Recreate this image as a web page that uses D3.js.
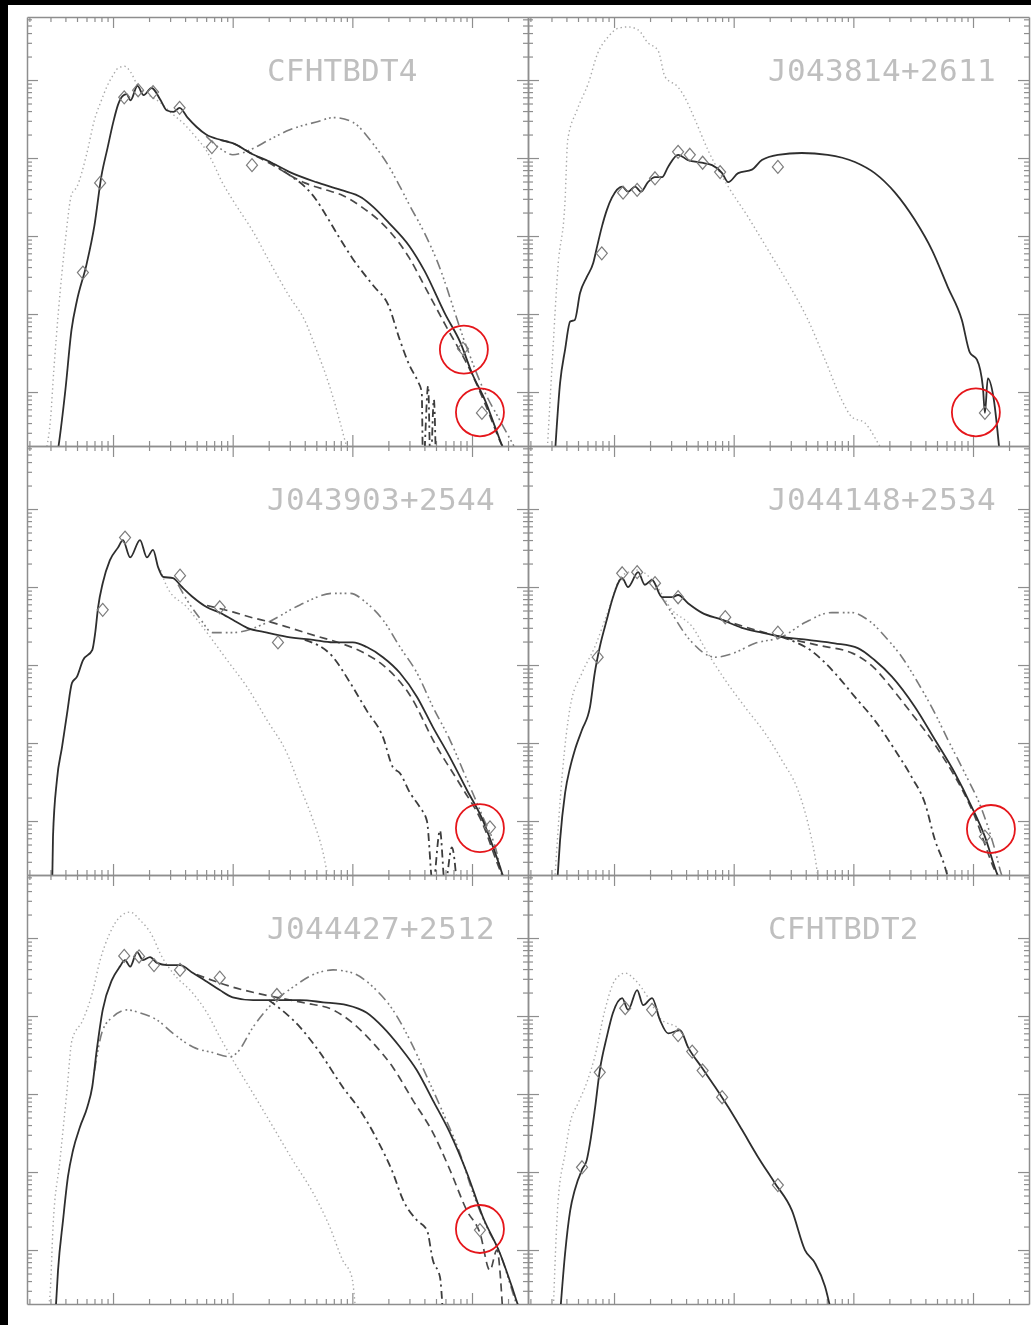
<!DOCTYPE html>
<html>
<head>
<meta charset="utf-8">
<script src="https://cdn.jsdelivr.net/npm/d3@7"></script>
<style>
  html, body { margin: 0; padding: 0; background: #fff; }
  svg { display: block; }
</style>
</head>
<body>
<svg id="chart" width="1031" height="1325"></svg>
<script>
// Spectral energy distributions: wavelength (micron) vs lambda*F_lambda (erg s^-1 cm^-2)

// ---- CFHTBDT4 ----
const t4Phot = [[0.28,2e-16],[0.3,4.4e-16],[0.32,1.9e-15],[0.35,1.1e-14],[0.4,8.9e-14],[0.45,3.4e-13],[0.5,4.3e-13],[0.6,1.1e-12],[0.7,3.1e-12],[0.8,5.5e-12],[0.9,8.6e-12],[1.0,1.15e-11],[1.1,1.42e-11],[1.25,1.5e-11],[1.4,1.27e-11],[1.6,8.6e-12],[2.0,6.4e-12],[2.5,5.1e-12],[3,3.9e-12],[4,2.65e-12],[5,1.8e-12],[6,1.26e-12],[7,8.1e-13],[8,5.2e-13],[10,2.9e-13],[15,1.1e-13],[20,4.9e-14],[30,1.65e-14],[40,8.3e-15],[50,3.5e-15],[60,1.66e-15],[70,7.9e-16],[80,3.8e-16],[90,2e-16],[100,1.5e-16]];
const t4Model = [[0.34,1.5e-16],[0.35,2.0e-16],[0.4,1.07e-15],[0.45,6.3e-15],[0.5,1.5e-14],[0.6,4.3e-14],[0.7,1.38e-13],[0.8,5.9e-13],[0.9,1.35e-12],[1.0,2.8e-12],[1.1,4.8e-12],[1.2,6.2e-12],[1.3,6.6e-12],[1.4,5.5e-12],[1.6,8.4e-12],[1.8,6.4e-12],[2.1,7.9e-12],[2.5,5.5e-12],[2.8,4.1e-12],[3.2,3.9e-12],[3.6,4.4e-12],[4.2,3.3e-12],[5,2.5e-12],[6,2.0e-12],[8,1.7e-12],[10,1.55e-12],[15,1.1e-12],[20,9.1e-13],[30,6.6e-13],[50,4.9e-13],[80,3.9e-13],[120,3.1e-13],[150,2.35e-13],[200,1.5e-13],[300,7.4e-14],[400,3.6e-14],[600,9.8e-15],[800,4.3e-15],[1000,1.74e-15],[1300,7.5e-16],[1600,3.2e-16],[1800,2.0e-16],[2000,1.5e-16]];
const t4Dashed = [[8,1.7e-12],[10,1.55e-12],[15,1.1e-12],[20,8.7e-13],[40,4.8e-13],[60,3.9e-13],[80,3.4e-13],[120,2.35e-13],[200,1.2e-13],[300,5.2e-14],[400,2.3e-14],[600,7.2e-15],[1000,1.7e-15],[1300,6.8e-16],[1800,2.0e-16],[2000,1.5e-16]];
const t4DashDot = [[20,9.1e-13],[30,6.0e-13],[40,4.3e-13],[50,2.9e-13],[60,1.86e-13],[80,8.9e-14],[100,5.2e-14],[150,2.3e-14],[200,1.3e-14],[250,4.6e-15],[300,2.2e-15],[350,1.4e-15],[380,1.0e-15],[390,1.0e-16],[430,1.2e-15],[450,1.0e-16],[480,8e-16],[500,1.0e-16]];
const t4Bump = [[6,1.9e-12],[8,1.3e-12],[10,1.1e-12],[12,1.16e-12],[15,1.34e-12],[20,1.7e-12],[30,2.3e-12],[50,2.9e-12],[70,3.3e-12],[100,2.9e-12],[150,1.5e-12],[200,8e-13],[250,4.3e-13],[300,2.5e-13],[400,1.1e-13],[500,5.2e-14],[900,3.8e-15],[1250,1.07e-15],[1700,4.4e-16],[2500,1.5e-16]];
const t4Obs = [[0.56,3.4e-14],[0.78,4.8e-13],[1.24,6.0e-12],[1.62,7.4e-12],[2.16,7.0e-12],[3.6,4.4e-12],[6.7,1.38e-12],[14.5,8.1e-13],[840,3.6e-15],[1210,5.4e-16]];
const t4Marked = [[855,3.5e-15],[1165,5.5e-16]];

// ---- J043814+2611 ----
const j2611Phot = [[0.275,1.5e-16],[0.303,2.1e-15],[0.34,4.0e-14],[0.39,2.9e-13],[0.41,1.7e-12],[0.49,4.1e-12],[0.61,9.1e-12],[0.73,2.2e-11],[0.89,3.55e-11],[1.08,4.6e-11],[1.31,4.8e-11],[1.59,4.4e-11],[1.92,3.0e-11],[2.33,2.4e-11],[2.67,1.1e-11],[3.43,8.1e-12],[3.9,6.0e-12],[4.75,3.1e-12],[6.1,1.26e-12],[9.0,4.3e-13],[13.2,1.75e-13],[19.4,6.6e-14],[28.4,2.5e-14],[41.8,8.4e-15],[58,2.6e-15],[80,7.9e-16],[97,4.8e-16],[125,4.0e-16],[161,2.2e-16],[184,1.5e-16]];
const j2611Model = [[0.32,1.5e-16],[0.354,1.3e-15],[0.39,3.5e-15],[0.43,8e-15],[0.47,8.4e-15],[0.52,1.86e-14],[0.59,2.95e-14],[0.67,4.5e-14],[0.72,7.2e-14],[0.79,1.3e-13],[0.87,2.15e-13],[0.96,3.1e-13],[1.17,4.3e-13],[1.31,3.7e-13],[1.5,4.3e-13],[1.68,3.7e-13],[1.92,4.9e-13],[2.2,5.7e-13],[2.52,5.7e-13],[2.83,7.7e-13],[3.43,1.1e-12],[4.15,9.4e-13],[5.4,8.7e-13],[6.6,8.1e-13],[8.0,6.4e-13],[9.0,4.9e-13],[10.9,6.4e-13],[14.2,7.1e-13],[17.2,9.4e-13],[23.4,1.1e-12],[37,1.16e-12],[61,1.1e-12],[103,8.9e-13],[151,6.4e-13],[223,3.6e-13],[327,1.6e-13],[454,6.6e-14],[617,2.2e-14],[807,8.4e-15],[942,3.2e-15],[1078,2.6e-15],[1210,1.15e-15],[1257,5.4e-16],[1330,1.5e-15],[1480,8.7e-16],[1680,1.5e-16]];
const j2611Obs = [[0.79,6.0e-14],[1.19,3.6e-13],[1.56,3.9e-13],[2.2,5.5e-13],[3.43,1.2e-12],[4.3,1.1e-12],[5.5,8.7e-13],[7.7,6.6e-13],[23.4,7.7e-13],[1257,5.4e-16]];
const j2611Marked = [[1057,5.5e-16]];

// ---- J043903+2544 ----
const j2544Phot = [[2.5,1.65e-12],[2.83,1.0e-12],[4.15,5.5e-13],[6.1,2.6e-13],[9.0,1.15e-13],[13.2,5.2e-14],[19.4,1.95e-14],[28.4,7.4e-15],[36.5,2.75e-15],[47,1.02e-15],[57,3.9e-16],[62.5,2e-16],[70,1.5e-16]];
const j2544Model = [[0.31,1.5e-16],[0.315,6.3e-16],[0.34,3.4e-15],[0.375,8.9e-15],[0.413,2.4e-14],[0.454,5.9e-14],[0.5,7.1e-14],[0.56,1.15e-13],[0.67,1.55e-13],[0.71,2.6e-13],[0.75,5.5e-13],[0.82,1.12e-12],[0.94,2.2e-12],[1.1,3.2e-12],[1.21,4.0e-12],[1.39,2.4e-12],[1.68,4.0e-12],[1.92,2.4e-12],[2.16,3.0e-12],[2.38,1.8e-12],[2.62,1.35e-12],[3.17,1.3e-12],[3.77,1.0e-12],[4.66,7.4e-13],[6.1,5.5e-13],[7.8,4.7e-13],[10,3.8e-13],[13.2,3.0e-13],[19.4,2.6e-13],[28.4,2.3e-13],[47,2.1e-13],[69,1.95e-13],[101,1.95e-13],[132,1.7e-13],[180,1.26e-13],[250,7.9e-14],[347,3.9e-14],[471,1.6e-14],[653,6.6e-15],[906,2.5e-15],[1233,1.02e-15],[1496,4.7e-16],[1711,2.6e-16],[1811,2e-16],[2000,1.5e-16]];
const j2544Dashed = [[6.1,5.8e-13],[10,4.8e-13],[15,4.0e-13],[20,3.6e-13],[30,3.0e-13],[50,2.35e-13],[80,1.9e-13],[120,1.48e-13],[200,8.7e-14],[300,4.2e-14],[500,9.3e-15],[800,2.9e-15],[1200,1.0e-15],[1800,2e-16],[2000,1.5e-16]];
const j2544DashDot = [[40,2.1e-13],[69,1.26e-13],[96,5.9e-14],[132,2.6e-14],[180,1.2e-14],[218,4.9e-15],[250,4.1e-15],[303,2.3e-15],[367,1.5e-15],[420,1.0e-15],[471,1.5e-16],[540,7.6e-16],[594,1.5e-16],[679,4.6e-16],[748,1.5e-16]];
const j2544Bump = [[3.5,1.07e-12],[4.15,6.8e-13],[5.3,4.0e-13],[6.8,2.6e-13],[10,2.6e-13],[19.4,3.5e-13],[36.5,5.9e-13],[69,8.3e-13],[96,8.3e-13],[132,6.2e-13],[180,3.8e-13],[250,1.7e-13],[347,7.9e-14],[471,2.9e-14],[653,1.1e-14],[906,3.4e-15],[1233,1.12e-15],[1614,3.9e-16],[1778,2e-16],[2000,1.5e-16]];
const j2544Obs = [[0.82,5.1e-13],[1.26,4.3e-12],[3.63,1.4e-12],[7.8,5.5e-13],[23.9,1.95e-13],[1413,8.3e-16]];
const j2544Marked = [[1165,8.1e-16]];

// ---- J044148+2534 ----
const j2534Phot = [[0.32,1.8e-16],[0.37,4.1e-15],[0.43,2.9e-14],[0.54,7.9e-14],[0.69,1.7e-13],[0.87,4.4e-13],[1.17,1.4e-12],[1.59,1.65e-12],[2.08,1.23e-12],[3.05,5.1e-13],[4.5,3.1e-13],[6.1,1.4e-13],[8.5,6.4e-14],[12.4,2.9e-14],[18.2,1.35e-14],[25.3,6.0e-15],[34.4,2.5e-15],[41.8,9.3e-16],[47.8,3.5e-16],[50.6,2e-16],[55,1.5e-16]];
const j2534Model = [[0.334,1.5e-16],[0.354,5.7e-16],[0.39,2.3e-15],[0.43,4.9e-15],[0.47,8.1e-15],[0.54,1.48e-14],[0.63,2.9e-14],[0.69,7.9e-14],[0.76,1.7e-13],[0.87,3.8e-13],[0.98,7.4e-13],[1.17,1.3e-12],[1.31,1.0e-12],[1.59,1.55e-12],[1.81,1.07e-12],[2.08,1.23e-12],[2.52,7.4e-13],[3.05,7.4e-13],[3.43,7.9e-13],[4.15,6.2e-13],[5.4,4.7e-13],[8.0,3.8e-13],[11.7,3.0e-13],[17.2,2.6e-13],[25.3,2.3e-13],[41.8,2.1e-13],[70,1.9e-13],[109,1.65e-13],[151,1.15e-13],[210,7.1e-14],[327,2.9e-14],[481,1.1e-14],[706,4.1e-15],[979,1.5e-15],[1257,6.3e-16],[1614,2e-16],[1800,1.5e-16]];
const j2534Dashed = [[8,3.8e-13],[20,2.5e-13],[50,1.8e-13],[100,1.4e-13],[150,9.1e-14],[200,5.5e-14],[300,2.5e-14],[500,8.7e-15],[1000,1.3e-15],[1600,2e-16],[1800,1.5e-16]];
const j2534DashDot = [[25,2.3e-13],[47.8,1.4e-13],[70,7.9e-14],[103,3.9e-14],[151,1.95e-14],[223,8.1e-15],[309,3.6e-15],[396,1.7e-15],[481,5.7e-16],[582,2.6e-16],[641,1.5e-16]];
const j2534Bump = [[2.5,7.4e-13],[2.83,5.5e-13],[4.3,2.1e-13],[7.0,1.26e-13],[9.7,1.4e-13],[15.1,1.9e-13],[25.3,2.3e-13],[39.4,3.5e-13],[66,4.7e-13],[97,4.7e-13],[132,3.8e-13],[195,2.1e-13],[255,1.26e-13],[347,5.9e-14],[481,2.4e-14],[617,1.1e-14],[855,4.1e-15],[1186,1.4e-15],[1524,4.3e-16],[1742,2e-16],[2000,1.5e-16]];
const j2534Obs = [[0.73,1.26e-13],[1.17,1.5e-12],[1.56,1.55e-12],[2.2,1.12e-12],[3.43,7.4e-13],[8.5,4.1e-13],[23.4,2.6e-13],[1257,6.3e-16]];
const j2534Marked = [[1412,7.9e-16]];

// ---- J044427+2512 ----
const j2512Phot = [[0.28,1.5e-16],[0.298,2.8e-16],[0.315,1.95e-15],[0.36,1.4e-14],[0.41,1.02e-13],[0.454,4.9e-13],[0.56,8.9e-13],[0.67,1.95e-12],[0.78,5.2e-12],[0.94,1.15e-11],[1.14,1.86e-11],[1.39,2.15e-11],[1.68,1.7e-11],[2.16,1.02e-11],[2.47,6.4e-12],[3.17,3.55e-12],[4.66,1.95e-12],[6.1,1.1e-12],[7.8,5.4e-13],[10,2.75e-13],[14.8,1.02e-13],[21.7,3.8e-14],[31.9,1.4e-14],[47,5.4e-15],[65,1.95e-15],[83,7.4e-16],[99,4.5e-16],[107,1.5e-16]];
const j2512Model = [[0.33,1.5e-16],[0.347,5.5e-16],[0.382,2.4e-15],[0.42,8.7e-15],[0.463,1.9e-14],[0.53,3.8e-14],[0.61,6.8e-14],[0.67,1.23e-13],[0.73,3.6e-13],[0.82,1.2e-12],[0.98,2.9e-12],[1.14,4.3e-12],[1.26,5.2e-12],[1.39,4.3e-12],[1.59,6.6e-12],[1.78,5.2e-12],[2.04,5.7e-12],[2.33,4.8e-12],[2.83,4.5e-12],[3.63,4.5e-12],[4.66,3.55e-12],[6.1,2.75e-12],[7.8,2.15e-12],[10,1.74e-12],[14.8,1.6e-12],[23.4,1.6e-12],[36.5,1.6e-12],[57,1.5e-12],[90,1.38e-12],[132,1.1e-12],[180,7.2e-13],[250,4.0e-13],[347,2.0e-13],[471,8.3e-14],[653,3.2e-14],[906,9.8e-15],[1233,2.65e-15],[1711,9.1e-16],[2197,3.1e-16],[2417,2e-16],[2700,1.5e-16]];
const j2512Dashed = [[5,3.4e-12],[10,2.35e-12],[15,2.0e-12],[25,1.7e-12],[40,1.47e-12],[69,1.2e-12],[101,8.1e-13],[149,4.5e-13],[218,2.2e-13],[321,8.3e-14],[471,3.2e-14],[653,1.07e-14],[906,3.2e-15],[1165,1.65e-15],[1412,5.5e-16],[1614,1.0e-15],[1811,1.5e-16]];
const j2512DashDot = [[20,1.6e-12],[36.5,7.2e-13],[53.6,3.4e-13],[83,1.23e-13],[116,6.2e-14],[161,2.6e-14],[218,9.8e-15],[265,4.4e-15],[347,2.4e-15],[420,1.8e-15],[471,7.4e-16],[540,4.5e-16],[571,1.5e-16]];
const j2512Bump = [[0.7,2.0e-13],[0.82,6.6e-13],[1.0,9.8e-13],[1.31,1.2e-12],[1.68,1.1e-12],[2.33,8.9e-13],[3.17,6.0e-13],[4.66,4.0e-13],[6.8,3.4e-13],[9.5,3.0e-13],[10.9,3.4e-13],[14.8,7.2e-13],[21.7,1.47e-12],[31.9,2.35e-12],[50.6,3.55e-12],[69,3.9e-12],[101,3.55e-12],[149,2.35e-12],[218,1.2e-12],[303,4.9e-13],[420,1.66e-13],[571,5.8e-14],[792,1.74e-14],[1018,5.4e-15],[1334,1.95e-15],[1711,9.1e-16],[2197,2.8e-16],[2500,1.5e-16]];
const j2512Obs = [[1.24,5.9e-12],[1.65,5.8e-12],[2.2,4.5e-12],[3.63,3.9e-12],[7.8,3.1e-12],[23.4,1.86e-12],[1165,1.8e-15]];
const j2512Marked = [[1165,1.86e-15]];

// ---- CFHTBDT2 ----
const t2Phot = [[0.31,1.5e-16],[0.34,4.0e-15],[0.39,1.74e-14],[0.43,4.3e-14],[0.5,7.6e-14],[0.59,1.38e-13],[0.69,3.0e-13],[0.84,1.2e-12],[1.02,2.9e-12],[1.24,3.55e-12],[1.5,2.9e-12],[1.92,1.74e-12],[2.42,9.4e-13],[3.56,6.6e-13],[4.15,4.0e-13]];
const t2Model = [[0.354,1.5e-16],[0.39,9.1e-16],[0.43,3.2e-15],[0.47,5.9e-15],[0.54,1.07e-14],[0.59,1.4e-14],[0.63,2.35e-14],[0.69,6.2e-14],[0.76,2.0e-13],[0.87,5.4e-13],[0.98,1.1e-12],[1.17,1.7e-12],[1.31,1.2e-12],[1.56,2.15e-12],[1.75,1.38e-12],[2.08,1.7e-12],[2.42,8.9e-13],[2.83,6.0e-13],[3.56,6.6e-13],[4.15,4.0e-13],[5.4,2.2e-13],[7.0,1.23e-13],[9.0,6.8e-14],[11.7,3.5e-14],[16,1.55e-14],[22.1,7.2e-15],[30.7,3.2e-15],[39.4,1.0e-15],[47.8,6.8e-16],[58,3.4e-16],[66,1.5e-16]];
const t2Obs = [[0.54,1.15e-14],[0.76,1.9e-13],[1.24,1.26e-12],[2.08,1.2e-12],[3.43,5.7e-13],[4.5,3.5e-13],[5.5,2.0e-13],[8.0,9.1e-14],[23.4,6.8e-15]];
const t2Marked = [];

// Object names shown in each panel
const objectNames = ["CFHTBDT4", "J043814+2611", "J043903+2544", "J044148+2534", "J044427+2512", "CFHTBDT2"];

// Axis ranges and major tick values
const lambdaRange = [0.191, 2937];
const fluxRange = [Math.pow(10, -15.692), Math.pow(10, -10.192)];
const lambdaMajor = [1, 10, 100, 1000];
const fluxMajor = [1e-15, 1e-14, 1e-13, 1e-12, 1e-11];

const panels = [
  { name: objectNames[0], col: 0, row: 0, phot: t4Phot, bump: t4Bump, dashdot: t4DashDot, dashed: t4Dashed, model: t4Model, obs: t4Obs, marked: t4Marked },
  { name: objectNames[1], col: 1, row: 0, phot: j2611Phot, model: j2611Model, obs: j2611Obs, marked: j2611Marked },
  { name: objectNames[2], col: 0, row: 1, phot: j2544Phot, bump: j2544Bump, dashdot: j2544DashDot, dashed: j2544Dashed, model: j2544Model, obs: j2544Obs, marked: j2544Marked },
  { name: objectNames[3], col: 1, row: 1, phot: j2534Phot, bump: j2534Bump, dashdot: j2534DashDot, dashed: j2534Dashed, model: j2534Model, obs: j2534Obs, marked: j2534Marked },
  { name: objectNames[4], col: 0, row: 2, phot: j2512Phot, bump: j2512Bump, dashdot: j2512DashDot, dashed: j2512Dashed, model: j2512Model, obs: j2512Obs, marked: j2512Marked },
  { name: objectNames[5], col: 1, row: 2, phot: t2Phot, model: t2Model, obs: t2Obs, marked: t2Marked }
];

// ---- layout ----
const colX = [27, 528];
const rowY = [17, 446, 875];
const PW = 501, PH = 429;
const charWidth = 19.3;   // label advance per character

const lineStyles = {
  phot:    { stroke: "#a8a8a8", width: 1.4, dash: "1.4 3" },
  bump:    { stroke: "#7a7a7a", width: 1.6, dash: "10 4 1.8 3 1.8 3 1.8 4" },
  dashdot: { stroke: "#3c3c3c", width: 1.8, dash: "8 4 2.2 4" },
  dashed:  { stroke: "#4a4a4a", width: 1.7, dash: "8 5" },
  model:   { stroke: "#2e2e2e", width: 1.8, dash: null }
};
const drawOrder = ["phot", "bump", "dashdot", "dashed", "model"];

const svg = d3.select("#chart");
const defs = svg.append("defs");
defs.append("filter").attr("id", "soft")
  .attr("x", "-5%").attr("y", "-5%").attr("width", "110%").attr("height", "110%")
  .append("feGaussianBlur").attr("stdDeviation", 0.55);
defs.append("clipPath").attr("id", "plotArea")
  .append("rect").attr("x", 0).attr("y", 0).attr("width", PW).attr("height", PH);

svg.append("rect").attr("width", 1031).attr("height", 1325).attr("fill", "#fff");

const x = d3.scaleLog().domain(lambdaRange).range([0, PW]);
const y = d3.scaleLog().domain(fluxRange).range([PH, 0]);

// log minor ticks (2..9 times each power of ten) inside the ranges
function minorTicks(range, lo, hi) {
  const out = [];
  for (let p = lo; p <= hi; p++) {
    for (let k = 2; k <= 9; k++) {
      const v = k * Math.pow(10, p);
      if (v > range[0] && v < range[1]) out.push(v);
    }
  }
  return out;
}
const lambdaMinor = minorTicks(lambdaRange, -1, 3);
const fluxMinor = minorTicks(fluxRange, -16, -11);

const line = d3.line()
  .x(d => x(d[0]))
  .y(d => y(d[1]))
  .curve(d3.curveMonotoneX);

const diamond = "M0,-6.5L5.5,0L0,6.5L-5.5,0Z";

function drawFrame(g) {
  const sides = [
    { make: d3.axisBottom, s: x, major: lambdaMajor, minor: lambdaMinor, t: `translate(0,${PH})` },
    { make: d3.axisTop,    s: x, major: lambdaMajor, minor: lambdaMinor, t: "translate(0,0)" },
    { make: d3.axisLeft,   s: y, major: fluxMajor,   minor: fluxMinor,   t: "translate(0,0)" },
    { make: d3.axisRight,  s: y, major: fluxMajor,   minor: fluxMinor,   t: `translate(${PW},0)` }
  ];
  sides.forEach(side => {
    const minorG = g.append("g").attr("transform", side.t)
      .call(side.make(side.s).tickValues(side.minor).tickSize(-5).tickSizeOuter(0).tickFormat(""));
    const majorG = g.append("g").attr("transform", side.t)
      .call(side.make(side.s).tickValues(side.major).tickSize(-11).tickSizeOuter(0).tickFormat(""));
    majorG.select(".domain").remove();
    [minorG, majorG].forEach(a => {
      a.select(".domain").attr("stroke", "#8e8e8e").attr("stroke-width", 1.5);
      a.selectAll(".tick line").attr("stroke", "#8e8e8e").attr("stroke-width", 1.2);
    });
  });
}

panels.forEach(p => {
  const left = colX[p.col], top = rowY[p.row];
  const g = svg.append("g").attr("transform", `translate(${left},${top})`);
  const soft = g.append("g").attr("filter", "url(#soft)");

  drawFrame(soft);

  soft.append("text")
    .attr("x", 240).attr("y", 64)
    .attr("font-family", "'DejaVu Sans Mono', monospace")
    .attr("font-size", 31)
    .attr("fill", "#bfbfbf")
    .attr("textLength", p.name.length * charWidth - 4)
    .attr("lengthAdjust", "spacing")
    .text(p.name);

  const plot = soft.append("g").attr("clip-path", "url(#plotArea)");
  drawOrder.forEach(key => {
    if (!p[key]) return;
    const st = lineStyles[key];
    plot.append("path")
      .datum(p[key])
      .attr("d", line)
      .attr("fill", "none")
      .attr("stroke", st.stroke)
      .attr("stroke-width", st.width)
      .attr("stroke-linejoin", "round")
      .attr("stroke-dasharray", st.dash);
  });

  plot.selectAll("path.obs")
    .data(p.obs)
    .join("path")
    .attr("class", "obs")
    .attr("d", diamond)
    .attr("transform", d => `translate(${x(d[0])},${y(d[1])})`)
    .attr("fill", "none")
    .attr("stroke", "#7c7c7c")
    .attr("stroke-width", 1.2);

  // highlighted millimetre measurements
  g.selectAll("circle.mark")
    .data(p.marked)
    .join("circle")
    .attr("class", "mark")
    .attr("cx", d => x(d[0]))
    .attr("cy", d => y(d[1]))
    .attr("r", 24)
    .attr("fill", "none")
    .attr("stroke", "#e5161b")
    .attr("stroke-width", 1.8);
});

// dark page edges
svg.append("rect").attr("x", 0).attr("y", 0).attr("width", 8).attr("height", 1325).attr("fill", "#000");
svg.append("rect").attr("x", 0).attr("y", 0).attr("width", 1031).attr("height", 5).attr("fill", "#000");
</script>
</body>
</html>
